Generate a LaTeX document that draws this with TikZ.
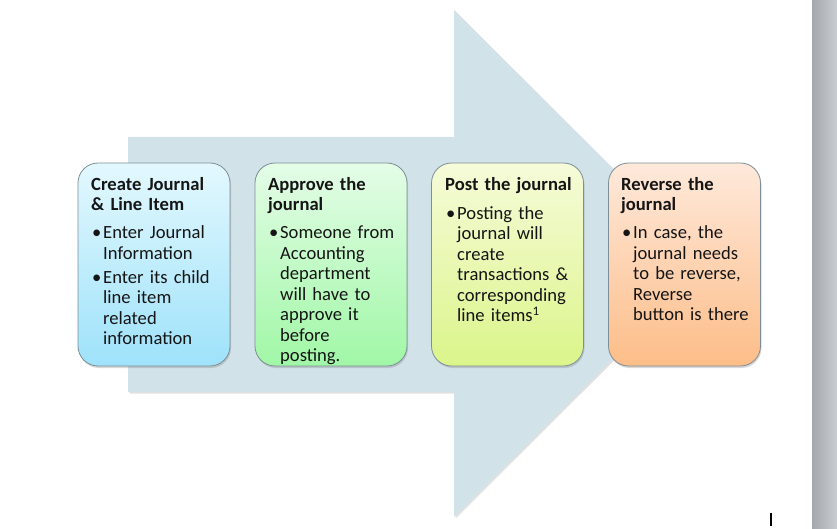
\documentclass[tikz,border=0pt]{standalone}
\usepackage{fontspec}
\setmainfont{Carlito}
\usetikzlibrary{shadows}
\definecolor{arrowc}{HTML}{D1E2E9}
\definecolor{cardedge}{HTML}{7D8E96}
\definecolor{textc}{HTML}{151515}
\definecolor{barl}{HTML}{A4A8AD}
\definecolor{barr}{HTML}{C9CCD0}
\definecolor{aTop}{HTML}{E3F8FE}
\definecolor{aBot}{HTML}{9EE2FA}
\definecolor{bTop}{HTML}{E4FDE7}
\definecolor{bBot}{HTML}{A0F7A6}
\definecolor{cTop}{HTML}{F6FBD9}
\definecolor{cBot}{HTML}{DBF58A}
\definecolor{dTop}{HTML}{FEE9DB}
\definecolor{dBot}{HTML}{FDBD88}
\newcommand\bul[1]{\par\hangindent=12pt\hangafter=1\noindent\makebox[12pt][l]{\hspace{1pt}•}#1\par}
\begin{document}
\begin{tikzpicture}[x=1pt,y=-1pt,
  card/.style={draw=cardedge, line width=0.8pt, rounded corners=20pt,
    minimum width=152pt, minimum height=203pt, inner sep=0pt,
    drop shadow={opacity=0.3, shadow xshift=1pt, shadow yshift=-2pt}},
  txt/.style={anchor=north west, inner sep=0pt, text width=140pt,
    font=\fontsize{18.6}{20.5}\selectfont, text=textc}
]
\useasboundingbox (0,0) rectangle (837,529);
\fill[white] (0,0) rectangle (837,529);
% right grey bar
\shade[left color=barl, right color=barr] (812,0) rectangle (837,529);
% big arrow
\fill[black, opacity=0.12] (129.5,138.5) -- (455.5,138.5) -- (455.5,11.5) -- (710,265) -- (455.5,518.5) -- (455.5,393.5) -- (129.5,393.5) -- cycle;
\fill[arrowc] (128,137) -- (454,137) -- (454,10) -- (708,263.5) -- (454,517) -- (454,392) -- (128,392) -- cycle;
% cards
\node[card, top color=aTop, bottom color=aBot] (c1) at (154,264.5) {};
\node[card, top color=bTop, bottom color=bBot] (c2) at (331,264.5) {};
\node[card, top color=cTop, bottom color=cBot] (c3) at (507.5,264.5) {};
\node[card, top color=dTop, bottom color=dBot] (c4) at (684.5,264.5) {};
% texts
\node[txt] (t1) at (91,175.65) {\textbf{\strut Create Journal\newline \& Line Item}\par\vspace{7.5pt}%
  \bul{Enter Journal\newline Information}\vspace{3.5pt}%
  \bul{Enter its child\newline line item\newline related\newline information}};
\node[txt] (t2) at (268,175.65) {\textbf{\strut Approve the\newline journal}\par\vspace{7.5pt}%
  \bul{Someone from\newline Accounting\newline department\newline will have to\newline approve it\newline before\newline posting.}};
\node[txt] (t3) at (445,175.65) {\textbf{\strut Post the journal}\par\vspace{8.5pt}%
  \bul{Posting the\newline journal will\newline create\newline transactions \&\newline corresponding\newline line items\textsuperscript{1}}};
\node[txt] (t4) at (621,175.65) {\textbf{\strut Reverse the\newline journal}\par\vspace{7.5pt}%
  \bul{In case, the\newline journal needs\newline to be reverse,\newline Reverse\newline button is there}};
% cursor mark
\draw[black, line width=1.6pt] (771,513) coordinate (m1) -- (771,526) coordinate (m2);
\end{tikzpicture}
\end{document}
